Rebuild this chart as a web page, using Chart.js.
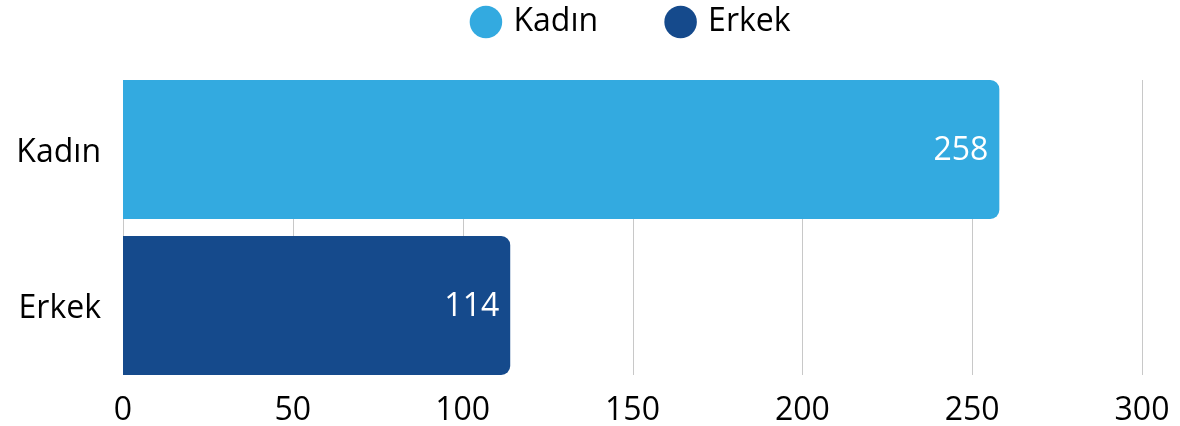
<!DOCTYPE html>
<html>
<head>
<meta charset="utf-8">
<script src="https://cdn.jsdelivr.net/npm/chart.js@4"></script>
<style>
html,body{margin:0;padding:0;background:#fff;}
#wrap{width:1180px;height:426px;position:relative;}
</style>
</head>
<body>
<div id="wrap"><canvas id="c"></canvas></div>
<script>
const categories = ["Kadın", "Erkek"];
const seriesNames = ["Kadın", "Erkek"];
const kadinValues = [258, null];
const erkekValues = [null, 114];
const xTicks = [0, 50, 100, 150, 200, 250, 300];
const colors = ["#33AAE0", "#154A8C"];

const FONT = "'Open Sans', sans-serif";
const FS = 32;

// value labels inside bar end
const valueLabels = {
  id: 'valueLabels',
  afterDatasetsDraw(chart) {
    const ctx = chart.ctx;
    ctx.save();
    ctx.font = FS + "px " + FONT;
    ctx.fillStyle = "#ffffff";
    ctx.textAlign = "right";
    ctx.textBaseline = "middle";
    chart.data.datasets.forEach((ds, i) => {
      const meta = chart.getDatasetMeta(i);
      meta.data.forEach((bar, j) => {
        const v = ds.data[j];
        if (v === null || v === undefined) return;
        ctx.fillText(String(v), bar.x - 11, bar.y + 1);
      });
    });
    ctx.restore();
  }
};

// vertical grid lines spanning from first bar top to last bar bottom
const barGrid = {
  id: 'barGrid',
  beforeDatasetsDraw(chart) {
    const xs = chart.scales.x;
    let top = Infinity, bottom = -Infinity;
    chart.data.datasets.forEach((ds, i) => {
      chart.getDatasetMeta(i).data.forEach((bar, j) => {
        if (ds.data[j] === null) return;
        top = Math.min(top, bar.y - bar.height / 2);
        bottom = Math.max(bottom, bar.y + bar.height / 2);
      });
    });
    const ctx = chart.ctx;
    ctx.save();
    ctx.strokeStyle = '#c8c8c8';
    ctx.lineWidth = 1;
    xs.ticks.forEach(t => {
      const px = Math.round(xs.getPixelForValue(t.value)) + 0.5;
      ctx.beginPath();
      ctx.moveTo(px, top);
      ctx.lineTo(px, bottom);
      ctx.stroke();
    });
    ctx.restore();
  }
};

const legendSpace = {
  id: 'legendSpace',
  beforeInit(chart) {
    const orig = chart.legend.fit;
    chart.legend.fit = function () {
      orig.call(this);
      this.height += 23.5;
    };
  }
};

new Chart(document.getElementById('c'), {
  type: 'bar',
  data: {
    labels: categories,
    datasets: [
      { label: seriesNames[0], data: kadinValues, backgroundColor: colors[0], borderRadius: 9, borderSkipped: 'start' },
      { label: seriesNames[1], data: erkekValues, backgroundColor: colors[1], borderRadius: 9, borderSkipped: 'start' }
    ]
  },
  options: {
    indexAxis: 'y',
    responsive: true,
    maintainAspectRatio: false,
    animation: false,
    grouped: false,
    barPercentage: 0.891,
    categoryPercentage: 1,
    layout: { padding: { left: 0, right: 38, top: -65, bottom: 0 } },
    plugins: {
      tooltip: { enabled: false },
      legend: {
        position: 'top',
        fullSize: false,
        labels: {
          usePointStyle: true,
          pointStyle: 'circle',
          boxWidth: 23,
          boxHeight: 23,
          padding: 71,
          color: '#000',
          font: { family: FONT, size: FS }
        }
      }
    },
    scales: {
      x: {
        min: 0,
        max: 300,
        afterBuildTicks(axis) { axis.ticks = xTicks.map(v => ({ value: v })); },
        afterFit(axis) { axis.height = 42.5; },
        grid: { display: false, drawTicks: false },
        border: { display: false },
        ticks: { color: '#000', padding: 8, font: { family: FONT, size: FS } }
      },
      y: {
        afterFit(axis) { axis.width = 123; },
        grid: { display: false, drawTicks: false },
        border: { display: false },
        ticks: { color: '#000', padding: 22, labelOffset: 3, font: { family: FONT, size: FS } }
      }
    }
  },
  plugins: [barGrid, valueLabels, legendSpace]
});
</script>
</body>
</html>
